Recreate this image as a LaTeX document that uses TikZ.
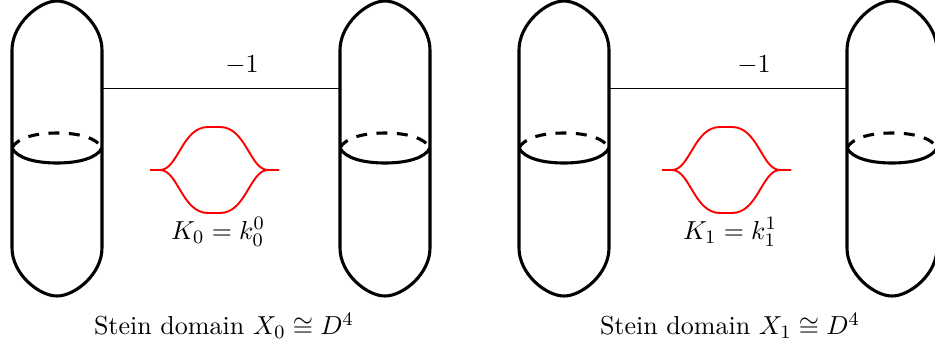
\documentclass[tikz,border=0pt,11pt]{standalone}
\usepackage{amsmath}
\usepackage{amssymb}
\begin{document}
\begin{tikzpicture}[x = 1.48mm, y = 1.48mm,
                        handle/.style = {line width = 1.3pt},
                        backarc/.style = {line width = 1.3pt, dashed, dash pattern = on 4.6pt off 4pt},
                        attach/.style = {line width = 0.4pt},
                        knot/.style = {red, line width = 0.8pt}]
      \useasboundingbox (0, 0) rectangle (93.5, 34.4);

      % the two pairs of balls
      \foreach \x/\n in {0/A0, 32.8/B0, 50.7/A1, 83.5/B1} {
        \begin{scope}[shift = {(\x, 0)}]
          \coordinate (\n l) at (1.2, 25.55);
          \coordinate (\n r) at (10.2, 25.55);
          \draw [handle] (1.2, 29.4) .. controls (1.2, 32) and (3.9, 34.3) .. (5.7, 34.3)
                .. controls (7.5, 34.3) and (10.2, 32) .. (10.2, 29.4) -- (10.2, 9.6)
                .. controls (10.2, 7) and (7.5, 4.8) .. (5.7, 4.8)
                .. controls (3.9, 4.8) and (1.2, 7) .. (1.2, 9.6) -- cycle;
          \draw [handle] (1.2, 19.6) .. controls (1.7, 18.6) and (3.5, 18.1) .. (5.7, 18.1)
                .. controls (7.9, 18.1) and (9.7, 18.6) .. (10.2, 19.6);
          \draw [backarc] (1.2, 19.6) .. controls (1.7, 20.6) and (3.5, 21.1) .. (5.7, 21.1)
                .. controls (7.9, 21.1) and (9.7, 20.6) .. (10.2, 19.6);
        \end{scope}
      }

      % 1-handles
      \draw [attach] (A0r) -- (B0l);
      \draw [attach] (A1r) -- (B1l);

      % knots
      \foreach \x in {0, 51.2} {
        \begin{scope}[shift = {(\x, 0)}]
          \draw [knot] (15, 17.4) -- (16, 17.4) .. controls (17.8, 17.4) and (18.2, 21.7) .. (20.8, 21.7)
                -- (22, 21.7) .. controls (24.6, 21.7) and (25, 17.4) .. (26.8, 17.4) -- (27.9, 17.4);
          \draw [knot] (15, 17.4) -- (16, 17.4) .. controls (17.8, 17.4) and (18.2, 13.1) .. (20.8, 13.1)
                -- (22, 13.1) .. controls (24.6, 13.1) and (25, 17.4) .. (26.8, 17.4) -- (27.9, 17.4);
        \end{scope}
      }

      \node (F0) at (24.2, 27.9) {$-1$};
      \node (F1) at (75.4, 27.9) {$-1$};
      \node (K0) at (21.8, 11.2) {$K_0 = k_0^0$};
      \node (K1) at (73, 11.2) {$K_1 = k_1^1$};
      \node (S0) at (22.4, 1.8) {Stein domain $X_0 \cong D^4$};
      \node (S1) at (73, 1.8) {Stein domain $X_1 \cong D^4$};
\end{tikzpicture}
\end{document}
